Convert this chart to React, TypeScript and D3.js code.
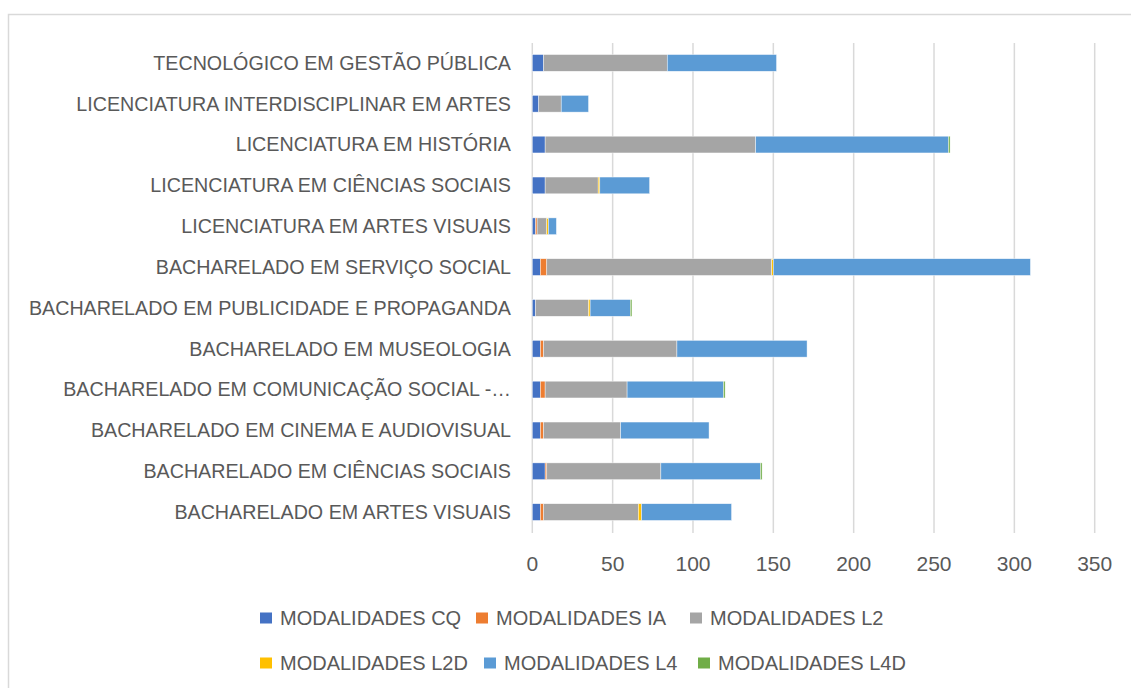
import * as React from 'react'
import * as d3 from 'd3'

// categories, bottom to top as in the chart
const courses = [
  'BACHARELADO EM ARTES VISUAIS',
  'BACHARELADO EM CIÊNCIAS SOCIAIS',
  'BACHARELADO EM CINEMA E AUDIOVISUAL',
  'BACHARELADO EM COMUNICAÇÃO SOCIAL -…',
  'BACHARELADO EM MUSEOLOGIA',
  'BACHARELADO EM PUBLICIDADE E PROPAGANDA',
  'BACHARELADO EM SERVIÇO SOCIAL',
  'LICENCIATURA EM ARTES VISUAIS',
  'LICENCIATURA EM CIÊNCIAS SOCIAIS',
  'LICENCIATURA EM HISTÓRIA',
  'LICENCIATURA INTERDISCIPLINAR EM ARTES',
  'TECNOLÓGICO EM GESTÃO PÚBLICA',
]

const seriesNames = [
  'MODALIDADES CQ',
  'MODALIDADES IA',
  'MODALIDADES L2',
  'MODALIDADES L2D',
  'MODALIDADES L4',
  'MODALIDADES L4D',
]

const cq = [5, 8, 5, 5, 5, 2, 5, 2, 8, 8, 4, 7]
const ia = [2, 1, 2, 3, 2, 0, 4, 1, 0, 0, 0, 0]
const l2 = [59, 71, 48, 51, 83, 33, 140, 6, 33, 131, 14, 77]
const l2d = [2, 0, 0, 0, 0, 1, 1, 1, 1, 0, 0, 0]
const l4 = [56, 62, 55, 60, 81, 25, 160, 5, 31, 120, 17, 68]
const l4d = [0, 1, 0, 1, 0, 1, 0, 0, 0, 1, 0, 0]

const xTicks = [0, 50, 100, 150, 200, 250, 300, 350]

const colors = ['#4472C4', '#ED7D31', '#A5A5A5', '#FFC000', '#5B9BD5', '#70AD47']

const W = 1131
const H = 688
const font = '"Liberation Sans", Arial, sans-serif'
const textColor = '#595959'

const App = () => {
  const rows = courses.map((c, i) => ({
    course: c,
    'MODALIDADES CQ': cq[i],
    'MODALIDADES IA': ia[i],
    'MODALIDADES L2': l2[i],
    'MODALIDADES L2D': l2d[i],
    'MODALIDADES L4': l4[i],
    'MODALIDADES L4D': l4d[i],
  }))

  const stacked = d3.stack().keys(seriesNames)(rows as any)

  const x = d3.scaleLinear().domain([0, 350]).range([532.3, 1094.7])
  const y = d3.scaleBand()
    .domain([...courses].reverse())
    .range([42.5, 532.5])
    .paddingInner(0.59)
    .paddingOuter(0.295)

  const legendRows = [
    [260, 476, 690],
    [260, 484, 698],
  ]
  const legendY = [612.5, 657.5]

  return (
    <svg width={W} height={H} style={{ position: 'absolute', left: 0, top: 0, background: '#fff' }}
      fontFamily={font}>
      <rect x={0} y={0} width={W} height={H} fill="#fff" />
      <rect x={8.5} y={14.5} width={W + 20} height={H + 20} fill="none" stroke="#d9d9d9" strokeWidth={1.5} />

      {xTicks.map(t => (
        <line key={'g' + t} x1={x(t)} x2={x(t)} y1={43} y2={533} stroke="#d9d9d9" strokeWidth={1.5} />
      ))}

      {stacked.map((s, si) => (
        <g key={s.key} fill={colors[si]}>
          {s.map((d, i) => (
            d[1] - d[0] > 0 ? (
              <rect key={i}
                x={x(d[0])}
                y={y(courses[i])}
                width={x(d[1]) - x(d[0])}
                height={y.bandwidth()}
                stroke="#ffffff" strokeWidth={0.6} strokeOpacity={0.7} />
            ) : null
          ))}
        </g>
      ))}

      {courses.map(c => (
        <text key={c} x={511} y={(y(c) as number) + y.bandwidth() / 2} dy="0.35em"
          textAnchor="end" fontSize={19.7} fill={textColor}>{c}</text>
      ))}

      {xTicks.map(t => (
        <text key={'t' + t} x={x(t)} y={571} textAnchor="middle" fontSize={21} fill={textColor}>{t}</text>
      ))}

      {seriesNames.map((n, i) => {
        const r = Math.floor(i / 3)
        const lx = legendRows[r][i % 3]
        return (
          <g key={n}>
            <rect x={lx} y={legendY[r]} width={12} height={11} fill={colors[i]} />
            <text x={lx + 20} y={legendY[r] + 5.5} dy="0.35em" fontSize={20} fill={textColor}>{n}</text>
          </g>
        )
      })}
    </svg>
  )
}

export default App
